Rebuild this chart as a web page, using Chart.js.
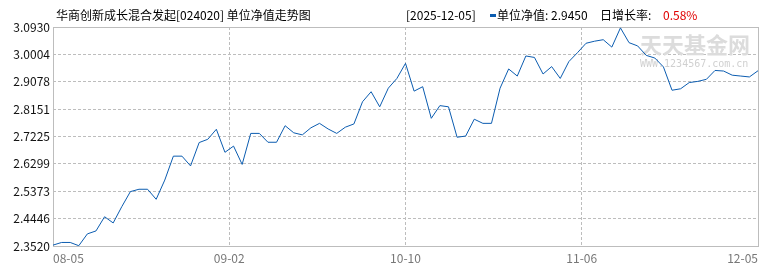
<!DOCTYPE html>
<html>
<head>
<meta charset="utf-8">
<script src="https://cdn.jsdelivr.net/npm/chart.js@4"></script>
<style>
  html, body { margin: 0; padding: 0; background: #fff; }
  #wrap { position: relative; width: 770px; height: 270px; }
</style>
</head>
<body>
<div id="wrap"><canvas id="navChart" width="770" height="270"></canvas></div>
<script>
// Chart data
const fundTitle = '华商创新成长混合发起[024020] 单位净值走势图';
const lastDate = '2025-12-05';
const lastNav = '2.9450';
const lastGrowth = '0.58%';

const xTickLabels = ['08-05', '09-02', '10-10', '11-06', '12-05'];
const yTickValues = [2.3520, 2.4446, 2.5373, 2.6299, 2.7225, 2.8151, 2.9078, 3.0004, 3.0930];

const navValues = [
    2.355, 2.364, 2.364, 2.353, 2.393, 2.403, 2.451, 2.430, 2.485, 2.536,
    2.544, 2.544, 2.510, 2.575, 2.656, 2.656, 2.623, 2.702, 2.713, 2.747,
    2.669, 2.690, 2.628, 2.733, 2.733, 2.703, 2.703, 2.759, 2.735, 2.728,
    2.752, 2.767, 2.748, 2.733, 2.754, 2.765, 2.840, 2.874, 2.823, 2.886,
    2.919, 2.970, 2.876, 2.891, 2.784, 2.827, 2.823, 2.720, 2.724, 2.781,
    2.767, 2.767, 2.886, 2.951, 2.927, 2.995, 2.990, 2.934, 2.959, 2.919,
    2.976, 3.006, 3.038, 3.045, 3.050, 3.025, 3.090, 3.040, 3.029, 2.997,
    2.988, 2.958, 2.879, 2.884, 2.905, 2.909, 2.916, 2.946, 2.944, 2.930,
    2.927, 2.924, 2.945
];

const FONT = '"Noto Sans CJK SC", "Noto Sans", sans-serif';
const lineColor = '#0b5cb0';
const gridColor = '#bdbdbd';

// header text, watermark and the box around the plot
const decorPlugin = {
    id: 'decor',
    beforeDatasetsDraw(chart) {
        const { ctx, chartArea: a } = chart;
        ctx.save();
        // watermark
        ctx.fillStyle = '#dcdcdc';
        ctx.font = 'bold 22px ' + FONT;
        ctx.textBaseline = 'middle';
        ctx.textAlign = 'left';
        ctx.fillText('天天基金网', 640, 45);
        ctx.font = '10px "DejaVu Sans Mono", monospace';
        ctx.fillStyle = '#d0d0d0';
        ctx.fillText('WWW.1234567.com.cn', 640, 64);
        // frame
        ctx.strokeStyle = gridColor;
        ctx.lineWidth = 1;
        ctx.strokeRect(Math.round(a.left) + 0.5, Math.round(a.top) + 0.5,
            Math.round(a.right - a.left), Math.round(a.bottom - a.top));
        ctx.restore();
    },
    afterDraw(chart) {
        const ctx = chart.ctx;
        ctx.save();
        ctx.font = '12px ' + FONT;
        ctx.textBaseline = 'middle';
        ctx.textAlign = 'left';
        ctx.fillStyle = '#000';
        ctx.fillText(fundTitle, 56, 15);
        ctx.fillText('[' + lastDate + ']', 406, 15);
        ctx.fillStyle = lineColor;
        ctx.fillRect(490, 14, 6, 3);
        ctx.fillStyle = '#000';
        ctx.fillText('单位净值: ' + lastNav, 497, 15);
        ctx.fillText('日增长率: ', 600, 15);
        ctx.fillStyle = '#e00000';
        ctx.fillText(lastGrowth, 663, 15);
        ctx.restore();
    }
};

const ctx = document.getElementById('navChart').getContext('2d');
new Chart(ctx, {
    type: 'line',
    data: {
        datasets: [{
            data: navValues.map((v, i) => ({ x: i, y: v })),
            borderColor: lineColor,
            borderWidth: 1,
            pointRadius: 0,
            tension: 0,
            fill: false
        }]
    },
    options: {
        responsive: false,
        animation: false,
        devicePixelRatio: 1,
        layout: { padding: { top: 27, right: 12, left: 0, bottom: 0 } },
        plugins: {
            legend: { display: false },
            tooltip: { enabled: false }
        },
        scales: {
            x: {
                type: 'linear',
                min: 0,
                max: navValues.length - 1,
                afterBuildTicks: axis => {
                    const last = navValues.length - 1;
                    axis.ticks = xTickLabels.map((t, i) => ({ value: last * i / (xTickLabels.length - 1) }));
                },
                afterFit: axis => { axis.height = 24; },
                grid: { color: gridColor, drawTicks: false },
                border: { display: false, dash: [3, 2] },
                ticks: {
                    autoSkip: false,
                    maxRotation: 0,
                    align: 'inner',
                    padding: 5,
                    color: '#777',
                    font: { family: FONT, size: 12 },
                    callback: (v, i) => xTickLabels[i]
                }
            },
            y: {
                min: yTickValues[0],
                max: yTickValues[yTickValues.length - 1],
                afterBuildTicks: axis => {
                    axis.ticks = yTickValues.map(v => ({ value: v }));
                },
                afterFit: axis => { axis.width = 53; },
                grid: { color: gridColor, drawTicks: false },
                border: { display: false, dash: [3, 2] },
                ticks: {
                    padding: 3,
                    color: '#111',
                    font: { family: FONT, size: 12 },
                    callback: v => v.toFixed(4)
                }
            }
        }
    },
    plugins: [decorPlugin]
});
</script>
</body>
</html>
